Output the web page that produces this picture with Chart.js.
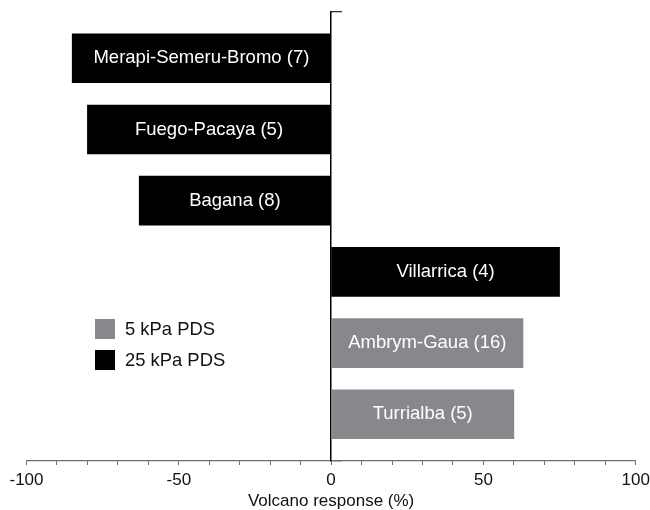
<!DOCTYPE html>
<html>
<head>
<meta charset="utf-8">
<script src="https://cdn.jsdelivr.net/npm/chart.js@4"></script>
<style>
  html, body { margin: 0; padding: 0; background: #fff; }
  #wrap { width: 650px; height: 510px; }
</style>
</head>
<body>
<div id="wrap"><canvas id="c" width="650" height="510"></canvas></div>
<script>
// ---- data ----
const categories = ["Merapi-Semeru-Bromo (7)", "Fuego-Pacaya (5)", "Bagana (8)", "Villarrica (4)", "Ambrym-Gaua (16)", "Turrialba (5)"];
const responses  = [-85, -80, -63, 75, 63, 60];
const pressure   = ["25", "25", "25", "25", "5", "5"];
const seriesKeys   = ["5", "25"];
const seriesLabels = ["5 kPa PDS", "25 kPa PDS"];
const seriesColors = ["rgb(135,136,140)", "#000000"];
const xTickLabels  = [-100, -50, 0, 50, 100];
const xTitle = "Volcano response (%)";

const FONT = "'Liberation Sans', Arial, sans-serif";

const datasets = seriesKeys.map((k, s) => ({
  label: seriesLabels[s],
  backgroundColor: seriesColors[s],
  borderWidth: 0,
  barThickness: 49,
  grouped: false,
  data: categories.map((c, i) => pressure[i] === k ? { x: responses[i], y: i } : null).filter(d => d)
}));

const barLabelPlugin = {
  id: 'barLabels',
  afterDatasetsDraw(chart) {
    const ctx = chart.ctx;
    ctx.save();
    ctx.font = `18.5px ${FONT}`;
    ctx.fillStyle = '#ffffff';
    ctx.textAlign = 'center';
    ctx.textBaseline = 'middle';
    chart.data.datasets.forEach((ds, di) => {
      const meta = chart.getDatasetMeta(di);
      meta.data.forEach((el, j) => {
        const idx = ds.data[j].y;
        const p = el.getProps(['x', 'y', 'base'], true);
        ctx.fillText(categories[idx], (p.x + p.base) / 2, p.y);
      });
    });
    ctx.restore();
  }
};

const legendPlugin = {
  id: 'insideLegend',
  afterDraw(chart) {
    const ctx = chart.ctx;
    ctx.save();
    ctx.font = `18.4px ${FONT}`;
    ctx.textAlign = 'left';
    ctx.textBaseline = 'middle';
    chart.data.datasets.forEach((ds, i) => {
      const top = 319 + i * 31;
      ctx.fillStyle = ds.backgroundColor;
      ctx.fillRect(95, top, 20, 20);
      ctx.fillStyle = '#111';
      ctx.fillText(ds.label, 125, top + 10.5);
    });
    ctx.restore();
  }
};

new Chart(document.getElementById('c'), {
  type: 'bar',
  data: { datasets },
  options: {
    indexAxis: 'y',
    responsive: false,
    animation: false,
    events: [],
    layout: { padding: { left: 26.5, right: 14.3, top: 12, bottom: 0 } },
    plugins: { legend: { display: false }, tooltip: { enabled: false } },
    scales: {
      x: {
        type: 'linear',
        min: -100, max: 100,
        afterFit: s => { s.paddingLeft = 0; s.paddingRight = 0; s.height = 49; },
        border: { color: '#6e6e6e', width: 1.3 },
        grid: { drawOnChartArea: false, drawTicks: true, tickLength: 4, color: '#6e6e6e', lineWidth: 1 },
        ticks: {
          stepSize: 10,
          autoSkip: false,
          maxRotation: 0,
          padding: 7,
          color: '#111',
          font: { family: FONT, size: 17, lineHeight: 1 },
          callback: v => xTickLabels.includes(v) ? String(v) : ''
        },
        title: { display: true, text: xTitle, color: '#111', font: { family: FONT, size: 17, lineHeight: 1 }, padding: { top: 2, bottom: 0 } }
      },
      y: {
        type: 'linear',
        position: { x: 0 },
        reverse: true,
        offset: false,
        min: -0.65, max: 5.656,
        afterBuildTicks: s => { s.ticks = [{ value: s.min }, { value: s.max }]; },
        border: { color: '#000', width: 1.5 },
        grid: { drawOnChartArea: false, drawTicks: true, tickLength: -12, color: '#333', lineWidth: 1.3, offset: false },
        ticks: { display: false }
      }
    }
  },
  plugins: [barLabelPlugin, legendPlugin]
});
</script>
</body>
</html>
